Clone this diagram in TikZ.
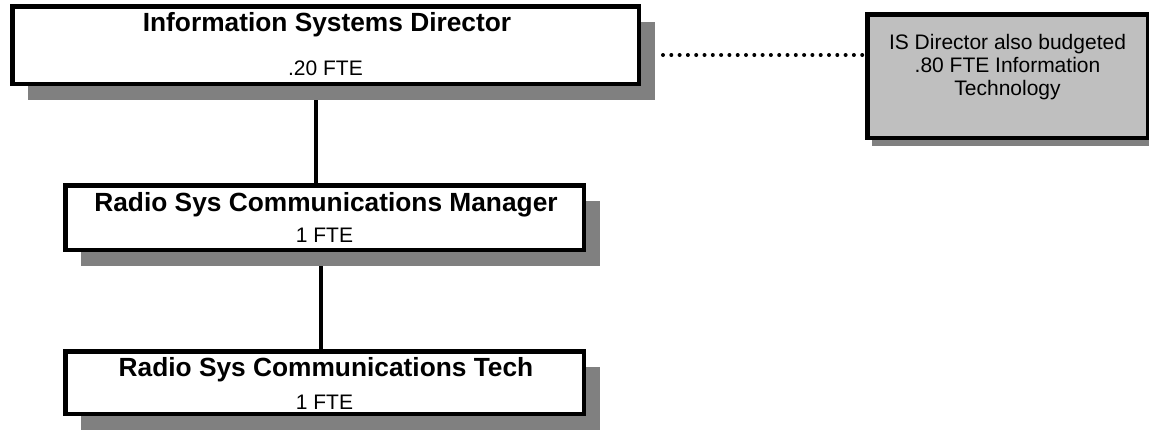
\documentclass[tikz,border=0pt]{standalone}
\usepackage{fontspec}
\setmainfont{Liberation Sans}
\usetikzlibrary{shadows,backgrounds}
\begin{document}
\begin{tikzpicture}[x=1pt,y=-1pt,
  unit/.style={draw,line width=4.5pt,fill=white,inner sep=0pt,drop shadow={shadow xshift=16pt,shadow yshift=-16pt,fill=black!50,opacity=1}},
  memo/.style={draw,line width=4.5pt,fill=black!25,inner xsep=0pt,inner ysep=20pt,align=center,font=\fontsize{21}{23}\selectfont,drop shadow={shadow xshift=5pt,shadow yshift=-8pt,fill=black!50,opacity=1}},
  ttl/.style={anchor=base,font=\fontsize{26.3}{30}\selectfont\bfseries},
  fte/.style={anchor=base,font=\fontsize{21}{25}\selectfont},
  link/.style={line width=4pt}]
\useasboundingbox (0,0) rectangle (1149,431);
\node[unit,minimum width=626.5,minimum height=77.5] (dir) at (325.5,45){};\node[ttl] (dirT) at (327,31){Information Systems Director};\node[fte] (dirF) at (325.5,75.5){.20 FTE};
\node[unit,minimum width=518.5,minimum height=64.5] (mgr) at (324.5,217.5){};\node[ttl] (mgrT) at (326,211){Radio Sys Communications Manager};\node[fte] (mgrF) at (324.5,242){1 FTE};
\node[unit,minimum width=518.5,minimum height=62.5] (tech) at (324.5,382.5){};\node[ttl] (techT) at (326,376){Radio Sys Communications Tech};\node[fte] (techF) at (324.5,409){1 FTE};
\node[memo,anchor=north,minimum width=280.5,text depth=22.5pt] (memo) at (1007.5,12){IS Director also budgeted\\.80 FTE Information\\Technology};
\begin{scope}[on background layer]
\draw[link] ([xshift=-10pt]dir.south)--([xshift=-9pt]mgr.north);
\draw[link] ([xshift=-3.5pt]mgr.south)--([xshift=-3.5pt]tech.north);
\end{scope}
\draw[line width=4pt,line cap=round,dash pattern=on 0pt off 8.3pt] ([shift={(22,10)}]dir.east) coordinate (d0)--(d0 -| memo.west);
\end{tikzpicture}
\end{document}
